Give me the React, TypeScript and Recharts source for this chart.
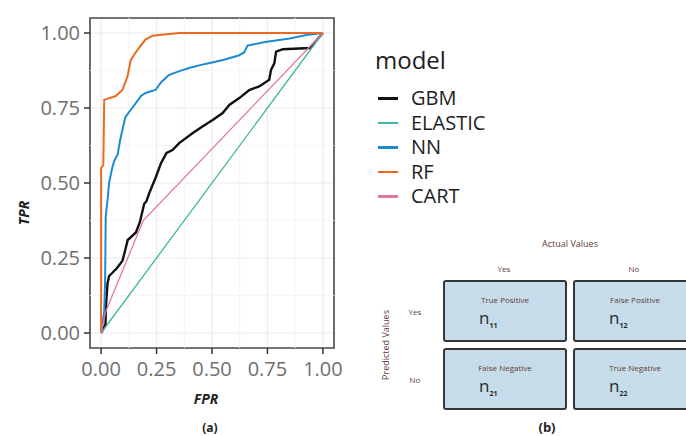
import React from "react";
import {
  LineChart,
  Line,
  XAxis,
  YAxis,
  CartesianGrid,
  ReferenceLine,
  ReferenceArea,
  Legend,
} from "recharts";

// ROC curves (false positive rate / true positive rate)
const gbmFpr = [0, 0.02, 0.021, 0.029, 0.036, 0.05, 0.07, 0.096, 0.11, 0.12, 0.135, 0.157, 0.175, 0.194, 0.205, 0.217, 0.247, 0.27, 0.295, 0.322, 0.352, 0.412, 0.457, 0.503, 0.548, 0.578, 0.623, 0.668, 0.713, 0.758, 0.766, 0.781, 0.789, 0.82, 0.94, 1];
const gbmTpr = [0, 0.03, 0.08, 0.165, 0.19, 0.2, 0.215, 0.24, 0.28, 0.31, 0.32, 0.335, 0.37, 0.43, 0.44, 0.466, 0.52, 0.566, 0.6, 0.61, 0.633, 0.666, 0.688, 0.71, 0.733, 0.76, 0.783, 0.81, 0.822, 0.844, 0.877, 0.899, 0.938, 0.946, 0.95, 1];

const elasticFpr = [0, 1];
const elasticTpr = [0, 1];

const nnFpr = [0, 0.014, 0.018, 0.021, 0.03, 0.036, 0.05, 0.06, 0.075, 0.085, 0.1, 0.11, 0.135, 0.16, 0.18, 0.2, 0.245, 0.27, 0.305, 0.35, 0.4, 0.47, 0.55, 0.62, 0.645, 0.66, 0.74, 0.85, 0.925, 1];
const nnTpr = [0, 0.07, 0.17, 0.39, 0.45, 0.5, 0.55, 0.575, 0.595, 0.64, 0.69, 0.72, 0.745, 0.77, 0.79, 0.8, 0.81, 0.835, 0.86, 0.872, 0.884, 0.897, 0.91, 0.925, 0.935, 0.958, 0.97, 0.982, 0.993, 1];

const rfFpr = [0, 0, 0.01, 0.014, 0.066, 0.096, 0.119, 0.134, 0.164, 0.2, 0.232, 0.352, 1];
const rfTpr = [0, 0.55, 0.56, 0.777, 0.79, 0.81, 0.855, 0.91, 0.944, 0.978, 0.991, 1, 1];

const cartFpr = [0, 0.02, 0.19, 1];
const cartTpr = [0, 0.07, 0.375, 1];

const models = ["GBM", "ELASTIC", "NN", "RF", "CART"];
const modelColors = ["#111111", "#3fb5a2", "#1d8bd0", "#ec6a1f", "#e2769e"];
const modelWidths = [2.4, 1.3, 2, 2, 1.3];

const majorTicks = [0, 0.25, 0.5, 0.75, 1];
const minorTicks = [0.125, 0.375, 0.625, 0.875];
const tickLabels = ["0.00", "0.25", "0.50", "0.75", "1.00"];

// confusion matrix panel (b)
const actualLabels = ["Yes", "No"];
const predictedLabels = ["Yes", "No"];
const cellNames = [
  ["True Positive", "False Positive"],
  ["False Negative", "True Negative"],
];
const cellSubs = [
  ["11", "12"],
  ["21", "22"],
];

const toPoints = (fpr: number[], tpr: number[]) =>
  fpr.map((x, i) => ({ fpr: x, tpr: tpr[i] }));

const curves = [
  toPoints(gbmFpr, gbmTpr),
  toPoints(elasticFpr, elasticTpr),
  toPoints(nnFpr, nnTpr),
  toPoints(rfFpr, rfTpr),
  toPoints(cartFpr, cartTpr),
];

const FONT = "'Open Sans', 'DejaVu Sans', sans-serif";
const tickStyle = { fill: "#6f6f6f", fontSize: 20, fontFamily: FONT };
const noteColor = "#5e3b33";

const fmt = (v: number) => tickLabels[majorTicks.indexOf(v)] ?? String(v);

const renderLegend = () => (
  <div style={{ fontFamily: FONT, color: "#1e1e1e" }}>
    <div style={{ fontSize: 24, lineHeight: "28px", marginBottom: 12 }}>model</div>
    {models.map((name, i) => (
      <div
        key={name}
        style={{ display: "flex", alignItems: "center", height: 24.5 }}
      >
        <span
          style={{
            display: "inline-block",
            width: 20,
            height: 2.5,
            marginLeft: 3,
            marginRight: 13,
            background: modelColors[i],
          }}
        />
        <span style={{ fontSize: 20, lineHeight: "24px" }}>{name}</span>
      </div>
    ))}
  </div>
);

const abs = (
  left: number,
  top: number,
  style: React.CSSProperties = {}
): React.CSSProperties => ({
  position: "absolute",
  left,
  top,
  transform: "translate(-50%, -50%)",
  whiteSpace: "nowrap",
  fontFamily: FONT,
  ...style,
});

const cellLeft = [443, 573];
const cellTop = [280, 348];

const App = () => {
  return (
    <div
      style={{
        position: "absolute",
        left: 0,
        top: 0,
        width: 686,
        height: 436,
        overflow: "hidden",
        background: "#fff",
      }}
    >
      <LineChart
        width={686}
        height={410}
        margin={{ top: 18, right: 352, left: 0, bottom: 0 }}
        style={{ position: "absolute", left: 0, top: 0 }}
      >
        <CartesianGrid stroke="#ebebeb" strokeWidth={1.2} />
        {minorTicks.map((v) => (
          <ReferenceLine key={`vx-${v}`} x={v} stroke="#f5f5f5" strokeWidth={1} />
        ))}
        {minorTicks.map((v) => (
          <ReferenceLine key={`hy-${v}`} y={v} stroke="#f5f5f5" strokeWidth={1} />
        ))}
        <XAxis
          type="number"
          dataKey="fpr"
          domain={[-0.05, 1.05]}
          ticks={majorTicks}
          tickFormatter={fmt}
          allowDataOverflow
          height={62}
          axisLine={false}
          tickSize={6}
          tickMargin={8}
          tickLine={{ stroke: "#333", strokeWidth: 1.5 }}
          tick={tickStyle}
        />
        <YAxis
          type="number"
          dataKey="tpr"
          domain={[-0.05, 1.05]}
          ticks={majorTicks}
          tickFormatter={fmt}
          allowDataOverflow
          width={90}
          axisLine={false}
          tickSize={6}
          tickMargin={4}
          tickLine={{ stroke: "#333", strokeWidth: 1.5 }}
          tick={tickStyle}
        />
        {models.map((name, i) => (
          <Line
            key={name}
            name={name}
            data={curves[i]}
            dataKey="tpr"
            type="linear"
            stroke={modelColors[i]}
            strokeWidth={modelWidths[i]}
            dot={false}
            activeDot={false}
            isAnimationActive={false}
          />
        ))}
        <ReferenceArea
          x1={-0.05}
          x2={1.05}
          y1={-0.05}
          y2={1.05}
          fill="none"
          stroke="#4a4a4a"
          strokeWidth={1.6}
        />
        <Legend
          layout="vertical"
          align="center"
          verticalAlign="middle"
          content={renderLegend}
          wrapperStyle={{ left: 375, top: 46, width: 200 }}
        />
      </LineChart>

      <div style={abs(23, 213, { transform: "translate(-50%, -50%) rotate(-90deg)", fontSize: 14, fontWeight: 700, fontStyle: "italic", color: "#222" })}>
        TPR
      </div>
      <div style={abs(206, 398, { fontSize: 14, fontWeight: 700, fontStyle: "italic", color: "#222" })}>
        FPR
      </div>
      <div style={abs(210, 427, { fontSize: 12, fontWeight: 700, color: "#222" })}>(a)</div>

      {/* confusion matrix */}
      <div style={abs(570, 243, { fontSize: 9, color: noteColor })}>Actual Values</div>
      {actualLabels.map((t, j) => (
        <div key={`a-${t}`} style={abs(cellLeft[j] + 61, 268, { fontSize: 8, color: noteColor })}>
          {t}
        </div>
      ))}
      {predictedLabels.map((t, i) => (
        <div key={`p-${t}`} style={abs(415, cellTop[i] + 31, { fontSize: 8, color: noteColor })}>
          {t}
        </div>
      ))}
      <div style={abs(385, 345, { transform: "translate(-50%, -50%) rotate(-90deg)", fontSize: 9, color: noteColor })}>
        Predicted Values
      </div>
      {cellNames.map((row, i) =>
        row.map((name, j) => (
          <div
            key={name}
            style={{
              position: "absolute",
              left: cellLeft[j],
              top: cellTop[i],
              width: 124,
              height: 62,
              boxSizing: "border-box",
              border: "2px solid #363636",
              borderRadius: 3,
              background: "#c6dcea",
              fontFamily: FONT,
            }}
          >
            <div style={abs(60, 17, { fontSize: 8, color: noteColor })}>{name}</div>
            <div style={{ position: "absolute", left: 34, top: 26, fontSize: 17, color: "#2a2a2a", lineHeight: "20px" }}>
              n
              <sub style={{ fontSize: 7, fontWeight: 700 }}>{cellSubs[i][j]}</sub>
            </div>
          </div>
        ))
      )}
      <div style={abs(547, 427, { fontSize: 13, fontWeight: 700, color: "#222" })}>(b)</div>
    </div>
  );
};

export default App;
